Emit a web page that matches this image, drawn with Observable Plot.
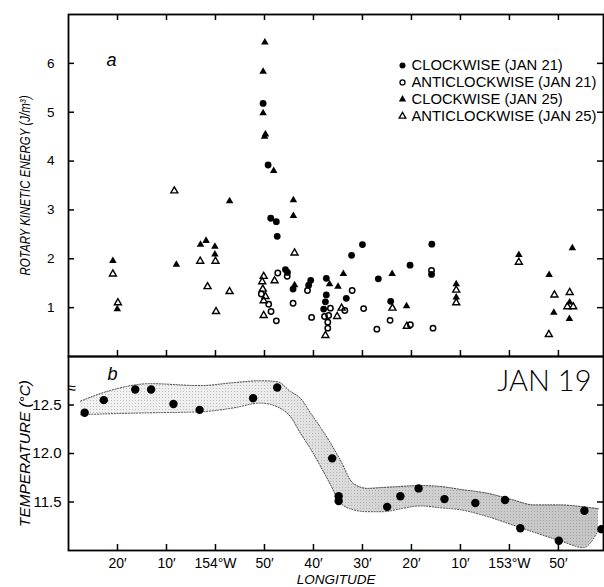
<!DOCTYPE html>
<html><head><meta charset="utf-8">
<script src="https://cdn.jsdelivr.net/npm/d3@7"></script>
<script src="https://cdn.jsdelivr.net/npm/@observablehq/plot@0.6"></script>
<style>
body{margin:0;background:#fff;}
#chart{width:604px;height:587px;position:relative;overflow:hidden;background:#fff;}
#chart svg{display:block;position:absolute;left:0;}
</style></head><body><div id="chart"></div>
<script>
// ---- Panel a: rotary kinetic energy (J/m^3) vs longitude (degrees W) ----
const cw21Lon = [153.838,153.821,153.812,153.793,153.790,153.762,153.755,153.736,153.676,153.683,153.623,153.623,153.626,153.632,153.555,153.537,153.500,153.446,153.404,153.338,153.264,153.265];
const cw21KE  = [5.18,3.92,2.83,2.76,2.46,1.78,1.72,1.38,1.56,1.46,1.60,1.26,1.12,0.97,1.19,2.07,2.29,1.59,1.13,1.87,2.30,1.68];

const acw21Lon = [153.844,153.819,153.811,153.793,153.788,153.756,153.736,153.687,153.673,153.629,153.609,153.615,153.618,153.618,153.535,153.560,153.496,153.451,153.406,153.337,153.265,153.260];
const acw21KE  = [1.28,1.07,0.92,0.73,1.71,1.64,1.09,1.35,0.80,0.82,0.99,0.84,0.70,0.58,1.35,0.94,0.98,0.56,0.74,0.65,1.76,0.58];

const cw25Lon = [153.832,153.838,153.838,153.830,153.833,153.802,153.952,153.735,153.735,154.349,154.334,154.133,154.051,154.032,154.002,154.002,153.731,153.612,153.565,153.583,153.399,153.350,153.181,153.181,152.968,152.865,152.849,152.786,152.795,152.796];
const cw25KE  = [6.43,5.83,4.98,4.55,4.50,3.80,3.18,3.20,2.88,1.96,0.97,1.88,2.29,2.37,2.25,2.09,1.46,1.48,1.69,1.43,1.69,1.03,1.48,1.21,2.08,1.67,0.90,2.22,1.11,0.77];

const acw25Lon = [154.140,153.731,154.349,154.332,154.052,154.000,154.027,153.952,153.998,153.836,153.841,153.839,153.830,153.836,153.836,153.799,153.626,153.571,153.586,153.398,153.349,153.181,153.181,152.968,152.847,152.866,152.795,152.803,152.783];
const acw25KE  = [3.39,2.12,1.69,1.10,1.95,1.95,1.43,1.33,0.92,1.64,1.53,1.38,1.23,1.14,0.84,1.55,0.43,0.99,0.82,0.99,0.62,1.36,1.10,1.93,1.26,0.45,1.31,1.02,1.02];

const legendLabels = ["CLOCKWISE (JAN 21)", "ANTICLOCKWISE (JAN 21)", "CLOCKWISE (JAN 25)", "ANTICLOCKWISE (JAN 25)"];
const keTicks = [1, 2, 3, 4, 5, 6];

// ---- Panel b: temperature (°C) vs longitude, Jan 19 ----
const tempLon = [154.445,154.380,154.273,154.219,154.143,154.054,153.872,153.790,153.603,153.581,153.581,153.416,153.371,153.309,153.221,153.116,153.015,152.963,152.832,152.745,152.687];
const tempC   = [12.42,12.55,12.66,12.66,12.51,12.45,12.57,12.68,11.95,11.56,11.51,11.45,11.56,11.64,11.53,11.49,11.52,11.23,11.10,11.41,11.22];

const bandLon  = [154.459,154.357,154.221,154.051,153.939,153.847,153.789,153.745,153.711,153.677,153.643,153.609,153.575,153.531,153.483,153.429,153.371,153.303,153.235,153.167,153.075,152.986,152.918,152.827,152.748,152.697];
const bandHigh = [12.54,12.65,12.72,12.70,12.73,12.75,12.74,12.64,12.57,12.42,12.27,12.11,11.93,11.69,11.64,11.65,11.66,11.67,11.66,11.63,11.59,11.52,11.47,11.47,11.45,11.43];
const bandLow  = [12.40,12.41,12.42,12.43,12.47,12.52,12.48,12.38,12.21,12.05,11.87,11.68,11.49,11.42,11.40,11.40,11.43,11.46,11.44,11.42,11.35,11.26,11.19,11.10,11.03,11.21];

const tempTicks = [11.5, 12.0, 12.5];
const panelBTitle = "JAN 19";

// ---- Longitude ticks ----
const xTicks = [154+20/60, 154+10/60, 154, 153+50/60, 153+40/60, 153+30/60, 153+20/60, 153+10/60, 153, 152+50/60];
const xTickLabels = ["20\u2032", "10\u2032", "154\u00B0W", "50\u2032", "40\u2032", "30\u2032", "20\u2032", "10\u2032", "153\u00B0W", "50\u2032"];

// ---- tables ----
const zipTable = (lon, v, key) => lon.map((d, i) => ({lon: d, [key]: v[i]}));
const cw21 = zipTable(cw21Lon, cw21KE, "ke");
const acw21 = zipTable(acw21Lon, acw21KE, "ke");
const cw25 = zipTable(cw25Lon, cw25KE, "ke");
const acw25 = zipTable(acw25Lon, acw25KE, "ke");
const temps = zipTable(tempLon, tempC, "t");
const band = bandLon.map((d, i) => ({lon: d, high: bandHigh[i], low: bandLow[i]}));

const W = 604, ML = 68, MR = 1;
const PW = W - ML - MR;
const xDomain = [154.5, 152.68];
const FONT = "'Liberation Sans', Arial, Helvetica, sans-serif";
const style = {fontFamily: FONT, fontSize: "14px", color: "#000", background: "transparent", overflow: "visible"};

// legend styles
const legendStyles = [
  {symbol: "circle", fill: "black", stroke: "none", r: 3.0},
  {symbol: "circle", fill: "none", stroke: "black", r: 2.5, strokeWidth: 1.3},
  {symbol: "triangle", fill: "black", stroke: "none", r: 2.7},
  {symbol: "triangle", fill: "none", stroke: "black", r: 2.5, strokeWidth: 1.3}
];
const legendMarks = legendLabels.flatMap((lab, i) => [
  Plot.dot([lab], {frameAnchor: "top-left", dx: 334, dy: 51 + i * 16.9, ...legendStyles[i]}),
  Plot.text([lab], {frameAnchor: "top-left", dx: 343, dy: 51 + i * 16.9, text: d => d, textAnchor: "start", lineAnchor: "middle", fontSize: 14.8})
]);

const HA = 342;
const plotA = Plot.plot({
  width: W, height: 357, marginTop: 14, marginBottom: 1, marginLeft: ML, marginRight: MR,
  style,
  x: {domain: xDomain, axis: null},
  y: {domain: [0, 7]},
  marks: [
    Plot.frame({strokeWidth: 1.8}),
    Plot.ruleX(xTicks, {insetTop: HA - 6, strokeWidth: 1.5}),
    Plot.ruleX(xTicks, {insetBottom: HA - 6, strokeWidth: 1.5}),
    Plot.ruleY(keTicks, {insetRight: PW - 6, strokeWidth: 1.5}),
    Plot.ruleY(keTicks, {insetLeft: PW - 6, strokeWidth: 1.5}),
    Plot.axisY({ticks: keTicks, tickFormat: d => String(d), tickSize: 0, tickPadding: 14, fontSize: 13.5, label: null}),
    Plot.dot(acw25, {x: "lon", y: "ke", symbol: "triangle", r: 2.6, fill: "none", stroke: "black", strokeWidth: 1.4}),
    Plot.dot(acw21, {x: "lon", y: "ke", r: 2.7, fill: "none", stroke: "black", strokeWidth: 1.5}),
    Plot.dot(cw25, {x: "lon", y: "ke", symbol: "triangle", r: 2.8, fill: "black", stroke: "none"}),
    Plot.dot(cw21, {x: "lon", y: "ke", r: 3.4, fill: "black", stroke: "none"}),
    Plot.text(["a"], {frameAnchor: "top-left", dx: 38, dy: 39, text: d => d, fontStyle: "italic", fontSize: 18}),
    Plot.text(["ROTARY KINETIC ENERGY (J/m\u00B3)"], {frameAnchor: "left", dx: -43, dy: 90, rotate: -90, text: d => d, textAnchor: "start", fontStyle: "italic", fontSize: 15}),
    ...legendMarks
  ]
});

const HB = 194;
const plotB = Plot.plot({
  width: W, height: 232, marginTop: 1, marginBottom: 37, marginLeft: ML, marginRight: MR,
  style,
  x: {domain: xDomain},
  y: {domain: [11, 13]},
  marks: [
    Plot.areaY(band, {x: "lon", y1: "low", y2: "high", curve: "monotone-x", fill: "url(#bandGrad)"}),
    Plot.areaY(band, {x: "lon", y1: "low", y2: "high", curve: "monotone-x", fill: "url(#stip)", fillOpacity: 0.35}),
    Plot.line(band, {x: "lon", y: "high", curve: "monotone-x", stroke: "#333", strokeWidth: 0.9, strokeDasharray: "1.2,1.6"}),
    Plot.line(band, {x: "lon", y: "low", curve: "monotone-x", stroke: "#333", strokeWidth: 0.9, strokeDasharray: "1.2,1.6"}),
    Plot.frame({strokeWidth: 1.8}),
    Plot.ruleX(xTicks, {insetTop: HB - 6, strokeWidth: 1.5}),
    Plot.ruleY(tempTicks, {insetRight: PW - 6, strokeWidth: 1.5}),
    Plot.ruleY(tempTicks, {insetLeft: PW - 6, strokeWidth: 1.5}),
    Plot.axisY({ticks: tempTicks, tickFormat: d3.format(".1f"), tickSize: 0, tickPadding: 7, fontSize: 15, label: null}),
    Plot.axisX({ticks: xTicks, tickFormat: (d, i) => xTickLabels[i], tickSize: 0, tickPadding: 8, fontSize: 14, label: null}),
    Plot.dot(temps, {x: "lon", y: "t", r: 4.2, fill: "black", stroke: "none"}),
    Plot.text(["b"], {frameAnchor: "top-left", dx: 39, dy: 11, text: d => d, fontStyle: "italic", fontSize: 18}),
    Plot.text(["\u2248"], {frameAnchor: "top-left", dx: -1, dy: 26, text: d => d, fontSize: 15}),
    Plot.text([panelBTitle], {frameAnchor: "top-right", dx: -12, dy: 25, text: d => d, fontSize: 29, fontFamily: "Lato, " + FONT, fontWeight: 300, textAnchor: "end", lineAnchor: "middle"}),
    Plot.text(["TEMPERATURE (\u00B0C)"], {frameAnchor: "left", dx: -43, dy: 73.5, rotate: -90, text: d => d, textAnchor: "start", fontStyle: "italic", fontSize: 15}),
    Plot.text(["LONGITUDE"], {frameAnchor: "bottom", dy: 33, text: d => d, fontStyle: "italic", fontSize: 13.5})
  ]
});

// gradient + stipple defs for the band
const defs = d3.select(plotB).insert("defs", ":first-child");
const grad = defs.append("linearGradient").attr("id", "bandGrad").attr("x1", 0).attr("x2", 1).attr("y1", 0).attr("y2", 0);
[[0, "#f2f2f2"], [0.35, "#ececec"], [0.45, "#e0e0e0"], [0.6, "#d2d2d2"], [1, "#c4c4c4"]].forEach(([o, c]) => grad.append("stop").attr("offset", o).attr("stop-color", c));
const pat = defs.append("pattern").attr("id", "stip").attr("width", 3).attr("height", 3).attr("patternUnits", "userSpaceOnUse");
pat.append("rect").attr("width", 1).attr("height", 1).attr("fill", "#666");

const chart = document.getElementById("chart");
plotA.style.top = "0px";
plotB.style.top = "355px";
chart.appendChild(plotA);
chart.appendChild(plotB);

// fit rotated axis titles to the reference lengths
d3.select(plotA).selectAll("text").filter(function() { return this.textContent.startsWith("ROTARY"); })
  .attr("textLength", 180).attr("lengthAdjust", "spacingAndGlyphs");
d3.select(plotB).selectAll("text").filter(function() { return this.textContent.startsWith("TEMPERATURE"); })
  .attr("textLength", 147).attr("lengthAdjust", "spacingAndGlyphs");
</script></body></html>
